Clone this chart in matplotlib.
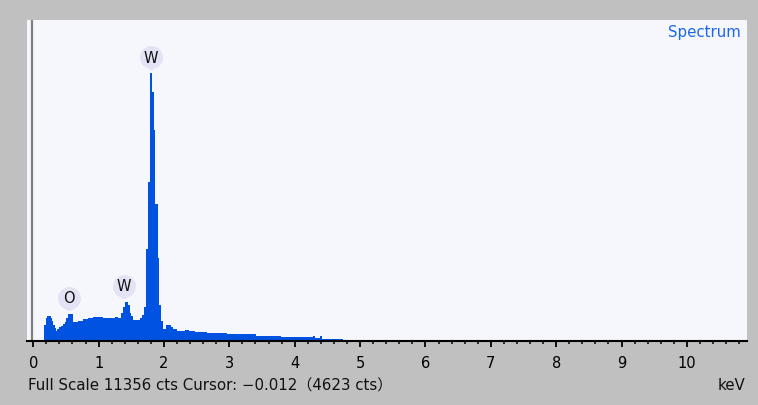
import matplotlib
matplotlib.use("Agg")
import matplotlib.pyplot as plt
from matplotlib.transforms import offset_copy
from matplotlib.ticker import MultipleLocator

plt.rcParams['font.family'] = ['DejaVu Sans', 'Noto Sans CJK JP']

# ---- data ----
bin_edges_kev = [0.164, 0.194, 0.214, 0.266, 0.286, 0.306, 0.327, 0.347, 0.367, 0.389,
                 0.419, 0.454, 0.480, 0.505, 0.531, 0.572, 0.603, 0.684, 0.760, 0.837,
                 0.913, 1.066, 1.245, 1.296, 1.337, 1.372, 1.407, 1.449, 1.475, 1.499,
                 1.525, 1.629, 1.669, 1.700, 1.729, 1.759, 1.779, 1.790, 1.819, 1.849,
                 1.869, 1.908, 1.923, 1.958, 1.989, 2.030, 2.102, 2.132, 2.194, 2.321,
                 2.382, 2.474, 2.576, 2.653, 2.959, 3.407, 3.785, 4.283, 4.309, 4.386,
                 4.412, 4.733]
counts = [570, 810, 900, 810, 700, 580, 460, 370, 430,
          490, 530, 600, 680, 820, 940, 960, 680, 725, 770,
          810, 860, 800, 860, 810, 1000, 1220, 1380, 1290, 1000,
          880, 760, 800, 920, 1220, 3270, 5610, 8090, 9470, 8800,
          7480, 4830, 2920, 1290, 690, 440, 580, 495, 425, 350,
          405, 350, 325, 310, 270, 240, 170, 125, 160, 110,
          160, 65]

label_texts = ["O", "W", "W"]
label_energies = [0.55, 1.39, 1.80]
label_peaks = [960, 1380, 9470]

full_scale = 11356
cursor_kev = -0.012
cursor_cts = 4623
x_major = list(range(0, 11))

# ---- figure ----
W, H = 758, 406
fig = plt.figure(figsize=(W / 100, H / 100), dpi=100, facecolor='#c0c0c0')
ax = fig.add_axes([27 / W, 1 - 342 / H, (747 - 27) / W, (342 - 21) / H])
ax.set_facecolor('#f6f7fd')

ax.stairs(counts, bin_edges_kev, fill=True, color='#0052e0', linewidth=0)
ax.axvline(cursor_kev, color='#7f7f7f', lw=1.6, zorder=1)

ax.set_xlim(-0.096, 10.92)
ax.set_ylim(0, full_scale)

for s in ['top', 'left', 'right']:
    ax.spines[s].set_visible(False)
ax.spines['bottom'].set_color('black')
ax.spines['bottom'].set_linewidth(1.5)
ax.set_yticks([])
ax.set_xticks(x_major)
ax.xaxis.set_minor_locator(MultipleLocator(0.2))
ax.tick_params(axis='x', which='major', length=4, width=1.3, pad=6,
               labelsize=10.5, colors='black')
ax.tick_params(axis='x', which='minor', length=2.3, width=1.1)

# element labels
for t, e, p in zip(label_texts, label_energies, label_peaks):
    tr_c = offset_copy(ax.transData, fig=fig, x=0, y=16, units='dots')
    tr_s = offset_copy(ax.transData, fig=fig, x=0, y=5, units='dots')
    ax.plot([e], [p], marker='s', ms=3.2, color='#e3e3f5', mew=0, transform=tr_s,
            zorder=4, clip_on=False)
    ax.plot([e], [p], marker='o', ms=16.5, color='#e3e3f5', mew=0, transform=tr_c,
            zorder=5, clip_on=False)
    ax.text(e, p, t, transform=tr_c, ha='center', va='center', fontsize=10.5,
            color='#111111', zorder=6)

fig.text(741 / W, 1 - 32 / H, "Spectrum", ha='right', va='center', fontsize=10.8,
         color='#1c66ee')
fig.text(28 / W, 1 - 386 / H,
         f"Full Scale {full_scale} cts Cursor: {cursor_kev:.3f}".replace('-', '−')
         + f"（{cursor_cts} cts）",
         ha='left', va='center', fontsize=10.8, color='#111111')
fig.text(745 / W, 1 - 386 / H, "keV", ha='right', va='center', fontsize=10.8,
         color='#111111')

fig.savefig("out.png", dpi=100, facecolor=fig.get_facecolor())
